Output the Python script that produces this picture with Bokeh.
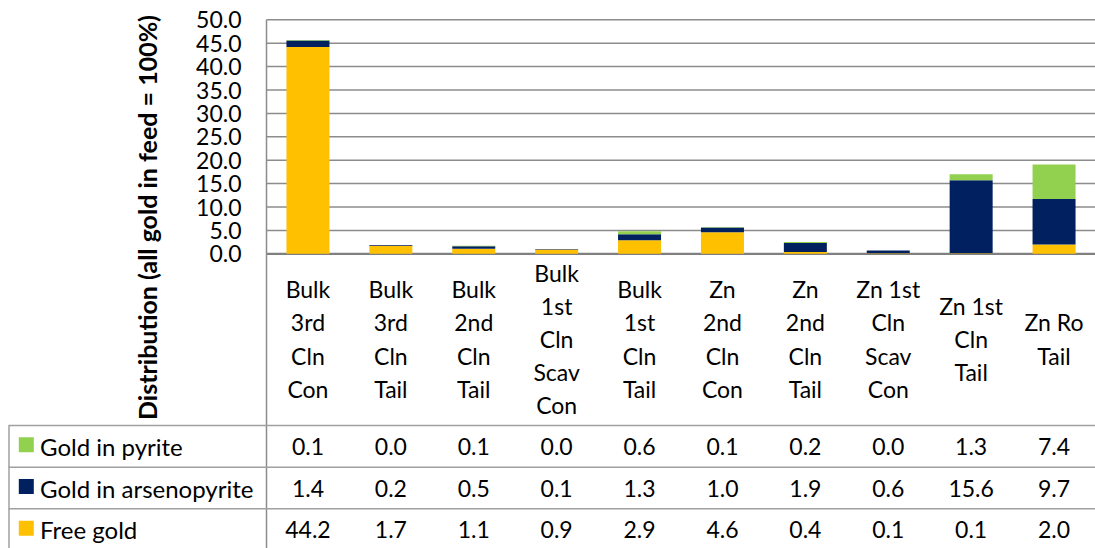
import math
from bokeh.plotting import figure
from bokeh.models import Range1d, ColumnDataSource
from bokeh.core.properties import value
from bokeh.embed import file_html
from bokeh.resources import INLINE

# ---------------- data ----------------
categories = [
    "Bulk\n3rd\nCln\nCon", "Bulk\n3rd\nCln\nTail", "Bulk\n2nd\nCln\nTail",
    "Bulk\n1st\nCln\nScav\nCon", "Bulk\n1st\nCln\nTail", "Zn\n2nd\nCln\nCon",
    "Zn\n2nd\nCln\nTail", "Zn 1st\nCln\nScav\nCon", "Zn 1st\nCln\nTail", "Zn Ro\nTail",
]
series_names = ["Gold in pyrite", "Gold in arsenopyrite", "Free gold"]
gold_in_pyrite = [0.1, 0.0, 0.1, 0.0, 0.6, 0.1, 0.2, 0.0, 1.3, 7.4]
gold_in_arsenopyrite = [1.4, 0.2, 0.5, 0.1, 1.3, 1.0, 1.9, 0.6, 15.6, 9.7]
free_gold = [44.2, 1.7, 1.1, 0.9, 2.9, 4.6, 0.4, 0.1, 0.1, 2.0]
y_ticks = [0, 5, 10, 15, 20, 25, 30, 35, 40, 45, 50]
y_title = "Distribution (all gold in feed = 100%)"

COL_PYRITE = "#92D050"
COL_ARSENO = "#002060"
COL_FREE = "#FFC000"
GRID = "#8c8c8c"
TABLE_LINE = "#a0a0a0"
FONT = "Lato"
FS = "23px"
TXT = "#000000"

# ---------------- layout constants (pixels) ----------------
W, H = 1095, 548
LEFT = 266                  # x of value axis / table separator
N = len(categories)
CW = (W - LEFT) / N         # pixel width of one category
ZERO_PX = 253.3             # y pixel of value 0
PPU = 4.68                  # pixels per data unit
ROW_TOP = 425.0             # y pixel of table top
ROW_H = 41.67               # table row height in pixels


def dx(px):                 # pixel x -> data x
    return (px - LEFT) / CW


def dy(py):                 # pixel y -> data y
    return (ZERO_PX - py) / PPU


x_lo, x_hi = dx(0), N
y_hi, y_lo = dy(0), dy(H)

p = figure(width=W, height=H, x_range=Range1d(x_lo, x_hi), y_range=Range1d(y_lo, y_hi),
           output_backend="svg", toolbar_location=None,
           x_axis_location=None, y_axis_location=None,
           min_border_left=0, min_border_right=0, min_border_top=0, min_border_bottom=0)
p.outline_line_color = None
p.xgrid.visible = False
p.ygrid.visible = False

# gridlines
p.segment(x0=[0] * len(y_ticks), x1=[N] * len(y_ticks), y0=y_ticks, y1=y_ticks,
          line_color=GRID, line_width=1.5)
p.segment(x0=[0], x1=[N], y0=[y_ticks[0]], y1=[y_ticks[0]], line_color="#808080", line_width=2.2)

# tick labels
p.text(x=[dx(241)] * len(y_ticks), y=y_ticks, text=[f"{t:.1f}" for t in y_ticks],
       text_align="right", text_baseline="middle", text_font=value(FONT),
       text_font_size=FS, text_color=TXT)

# axis title
p.text(x=[dx(146)], y=[dy(217)], text=[y_title], angle=math.pi / 2,
       text_align="center", text_baseline="middle", text_font=value(FONT),
       text_font_size="25px", text_font_style="bold", text_color=TXT)

# bars
x_centers = [i + 0.5 for i in range(N)]
src = ColumnDataSource(dict(x=x_centers, free=free_gold, arseno=gold_in_arsenopyrite,
                            pyrite=gold_in_pyrite))
p.vbar_stack(["free", "arseno", "pyrite"], x="x", width=43 / CW, source=src,
             color=[COL_FREE, COL_ARSENO, COL_PYRITE], line_color=None)

# category labels
p.text(x=x_centers, y=[dy(338.5)] * N, text=categories, text_align="center",
       text_baseline="middle", text_font=value(FONT), text_font_size=FS,
       text_color=TXT, text_line_height=1.18)

# value axis line / table separator
p.segment(x0=[0], x1=[0], y0=[50], y1=[y_lo], line_color=GRID, line_width=1.5)

# data table
row_lines = [dy(ROW_TOP + k * ROW_H) for k in range(3)]
p.segment(x0=[dx(8)] * 3, x1=[N] * 3, y0=row_lines, y1=row_lines,
          line_color=TABLE_LINE, line_width=1.5)
p.segment(x0=[dx(8.5)], x1=[dx(8.5)], y0=[row_lines[0]], y1=[y_lo],
          line_color=TABLE_LINE, line_width=1.5)

row_centers = [dy(ROW_TOP + (k + 0.5) * ROW_H) for k in range(3)]
p.scatter(x=[dx(25.8)] * 3, y=[c + 1.5 / PPU for c in row_centers], marker="square", size=15,
          color=[COL_PYRITE, COL_ARSENO, COL_FREE], line_color=None)
p.text(x=[dx(39.5)] * 3, y=row_centers, text=series_names, text_align="left",
       text_baseline="middle", text_font=value(FONT), text_font_size="24px", text_color=TXT)

tx, ty, tt = [], [], []
for yc, vals in zip(row_centers, [gold_in_pyrite, gold_in_arsenopyrite, free_gold]):
    for i, v in enumerate(vals):
        tx.append(i + 0.5)
        ty.append(yc)
        tt.append(f"{v:.1f}")
p.text(x=tx, y=ty, text=tt, text_align="center", text_baseline="middle",
       text_font=value(FONT), text_font_size=FS, text_color=TXT)

open("out.html", "w").write(file_html(p, INLINE))
